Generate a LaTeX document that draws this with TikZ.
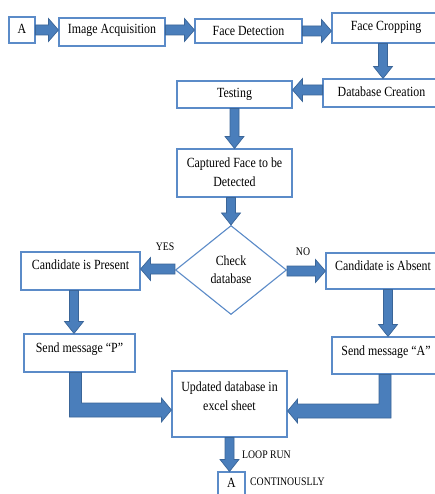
\documentclass[tikz,border=0pt]{standalone}
\usepackage{fontspec}
\setmainfont{Liberation Serif}[FakeStretch=0.85]
\usetikzlibrary{calc,shapes.geometric}
\definecolor{boxc}{HTML}{5B8BC8}
\definecolor{arrf}{HTML}{4A7EBB}
\definecolor{arrd}{HTML}{3A6598}
\tikzset{
  bx/.style={draw=boxc, line width=1.1pt, fill=white, inner sep=0pt, align=center,
    text height=10pt, text depth=3pt, font=\fontsize{14}{19}\selectfont},
  lbl/.style={inner sep=0pt, font=\fontsize{11.5}{13}\selectfont},
  blk/.style={fill=arrf, draw=arrd, line width=0.7pt, line join=miter},
}
\newcommand\harr[2]{\path[blk] let \p1=(#1), \p2=(#2), \n1={sign(\x2-\x1)} in
  (\x1,{\y1+5pt}) -- ({\x2-\n1*10pt},{\y1+5pt}) -- ({\x2-\n1*10pt},{\y1+11.5pt}) -- (\x2,\y1)
  -- ({\x2-\n1*10pt},{\y1-11.5pt}) -- ({\x2-\n1*10pt},{\y1-5pt}) -- (\x1,{\y1-5pt}) -- cycle;}
\newcommand\varr[2]{\path[blk] let \p1=(#1), \p2=(#2) in
  ({\x1-4.5pt},\y1) -- ({\x1-4.5pt},{\y2+12pt}) -- ({\x1-9.5pt},{\y2+12pt}) -- (\x1,\y2)
  -- ({\x1+9.5pt},{\y2+12pt}) -- ({\x1+4.5pt},{\y2+12pt}) -- ({\x1+4.5pt},\y1) -- cycle;}
\newcommand\earr[2]{\path[blk] let \p1=(#1), \p2=(#2), \n1={sign(\x2-\x1)} in
  ({\x1-\n1*6pt},\y1) -- ({\x1-\n1*6pt},{\y2-7pt}) -- ({\x2-\n1*10pt},{\y2-7pt}) -- ({\x2-\n1*10pt},{\y2-12pt})
  -- (\x2,\y2) -- ({\x2-\n1*10pt},{\y2+12pt}) -- ({\x2-\n1*10pt},{\y2+7pt}) -- ({\x1+\n1*6pt},{\y2+7pt})
  -- ({\x1+\n1*6pt},\y1) -- cycle;}
\begin{document}
\begin{tikzpicture}[x=1pt,y=-1pt]
\useasboundingbox (0,0) rectangle (435,494);
\clip (0,0) rectangle (435,494);
\fill[white] (0,0) rectangle (435,494);
\node[bx, minimum width=26pt, minimum height=26pt] (A1) at (22,30) {A};
\node[bx, minimum width=106pt, minimum height=28pt, text depth=6.8pt] (IA) at (112,32) {Image Acquisition};
\node[bx, minimum width=107pt, minimum height=24pt, text depth=1pt] (FD) at (248.5,31) {Face Detection};
\node[bx, minimum width=108pt, minimum height=30pt, text depth=4.8pt] (FC) at (386,28) {Face Cropping};
\node[bx, minimum width=117pt, minimum height=28pt] (DC) at (381.5,93) {Database Creation};
\node[bx, minimum width=115pt, minimum height=27pt, text depth=3.8pt] (Test) at (234.5,94.5) {Testing};
\node[bx, minimum width=115pt, minimum height=48pt, text height=29pt, text depth=2.7pt] (Cap) at (234.5,173) {Captured Face to be\\Detected};
\node[bx, diamond, minimum width=111pt, minimum height=89pt, text height=28pt, text depth=1.9pt, font=\fontsize{14}{18}\selectfont] (Dia) at (231,270) {Check\\database};
\node[bx, minimum width=119pt, minimum height=38pt, text depth=12.8pt] (Pres) at (80.5,271) {Candidate is Present};
\node[bx, minimum width=114pt, minimum height=36pt, text depth=12pt] (Abs) at (383,271) {Candidate is Absent};
\node[bx, minimum width=111pt, minimum height=38pt, text depth=10.8pt] (SendP) at (79.5,353) {Send message “P”};
\node[bx, minimum width=108pt, minimum height=37pt, text depth=10.8pt] (SendA) at (386,355.5) {Send message “A”};
\node[bx, minimum width=115pt, minimum height=66pt, text height=29pt, text depth=15.7pt] (Upd) at (229.5,404) {Updated database in\\excel sheet};
\node[bx, minimum width=27pt, minimum height=26pt, text depth=4.8pt] (A2) at (231.5,485) {A};
\node[lbl] (yes) at (165,247) {YES};
\node[lbl] (no) at (303,252) {NO};
\node[lbl, anchor=west] (loop) at (242,455) {LOOP RUN};
\node[lbl, anchor=west] (cont) at (250,482) {CONTINOUSLLY};
\harr{A1.east}{IA.west}
\harr{[yshift=2pt]IA.east}{FD.west}
\harr{FD.east}{FC.west}
\varr{[xshift=-3pt]FC.south}{DC.north}
\harr{[yshift=3pt]DC.west}{Test.east}
\varr{Test.south}{Cap.north}
\varr{[xshift=-3.5pt]Cap.south}{Dia.north}
\harr{[yshift=1pt]Dia.west}{Pres.east}
\harr{[yshift=-1pt]Dia.east}{Abs.west}
\varr{[xshift=-6.5pt]Pres.south}{SendP.north}
\varr{[xshift=5pt]Abs.south}{SendA.north}
\earr{[xshift=-4pt]SendP.south}{[yshift=-6pt]Upd.west}
\earr{[xshift=-1pt]SendA.south}{[yshift=-7pt]Upd.east}
\varr{Upd.south}{A2.north}
\end{tikzpicture}
\end{document}
